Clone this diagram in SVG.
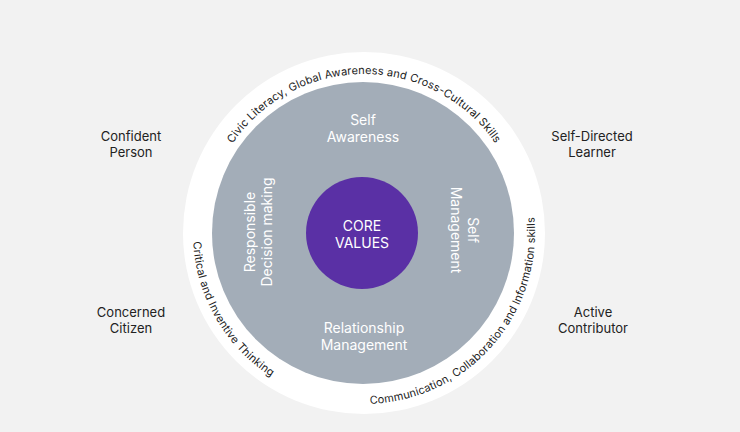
<svg xmlns="http://www.w3.org/2000/svg" width="740" height="432" viewBox="0 0 740 432">
  <style>
    .lbl { font-family: Inter, "Liberation Sans", sans-serif; font-size: 13px; fill: #222; text-anchor: middle; }
    .in { font-family: Inter, "Liberation Sans", sans-serif; font-size: 14px; fill: #ffffff; text-anchor: middle; }
    .arc { font-family: Inter, "Liberation Sans", sans-serif; font-size: 11px; letter-spacing: 0.15px; fill: #222; }
  </style>
  <defs>
    <path id="pTop" d="M 205 233 A 159 159 0 0 1 523 233"/>
    <path id="pLeft" d="M 193.2 241.9 A 171 171 0 0 0 305.5 393.7"/>
    <path id="pBottom" d="M 370 403.9 A 171 171 0 0 0 524.7 174.5"/>
  </defs>
  <rect width="740" height="432" fill="#f2f2f2"/>
  <g id="outer-ring">
    <circle cx="364" cy="233" r="181" fill="#ffffff"/>
  </g>
  <g id="inner-ring">
    <circle cx="363" cy="233" r="151" fill="#a3adb8"/>
  </g>
  <g id="core">
    <circle cx="362" cy="233" r="56" fill="#5a30a5"/>
    <text class="in" x="362" y="231">CORE</text>
    <text class="in" x="362" y="248">VALUES</text>
  </g>
  <g id="self-awareness">
    <text class="in" x="363" y="125">Self</text>
    <text class="in" x="363" y="142">Awareness</text>
  </g>
  <g id="relationship-management">
    <text class="in" x="364" y="333">Relationship</text>
    <text class="in" x="364" y="350">Management</text>
  </g>
  <g id="self-management" transform="translate(468 230) rotate(90)">
    <text class="in" x="0" y="0">Self</text>
    <text class="in" x="0" y="17">Management</text>
  </g>
  <g id="responsible-decision" transform="translate(255 232) rotate(-90)">
    <text class="in" x="0" y="0">Responsible</text>
    <text class="in" x="0" y="17">Decision making</text>
  </g>
  <g id="arc-top">
    <text class="arc"><textPath href="#pTop" startOffset="50%" text-anchor="middle">Civic Literacy, Global Awareness and Cross-Cultural Skills</textPath></text>
  </g>
  <g id="arc-left">
    <text class="arc"><textPath href="#pLeft" startOffset="0">Critical and Inventive Thinking</textPath></text>
  </g>
  <g id="arc-bottom">
    <text class="arc"><textPath href="#pBottom" startOffset="0">Communication, Collaboration and Information skills</textPath></text>
  </g>
  <g id="confident-person">
    <text class="lbl" x="131" y="141">Confident</text>
    <text class="lbl" x="131" y="157">Person</text>
  </g>
  <g id="self-directed-learner">
    <text class="lbl" x="592" y="141">Self-Directed</text>
    <text class="lbl" x="592" y="157">Learner</text>
  </g>
  <g id="concerned-citizen">
    <text class="lbl" x="131" y="317">Concerned</text>
    <text class="lbl" x="131" y="333">Citizen</text>
  </g>
  <g id="active-contributor">
    <text class="lbl" x="593" y="317">Active</text>
    <text class="lbl" x="593" y="333">Contributor</text>
  </g>
</svg>
